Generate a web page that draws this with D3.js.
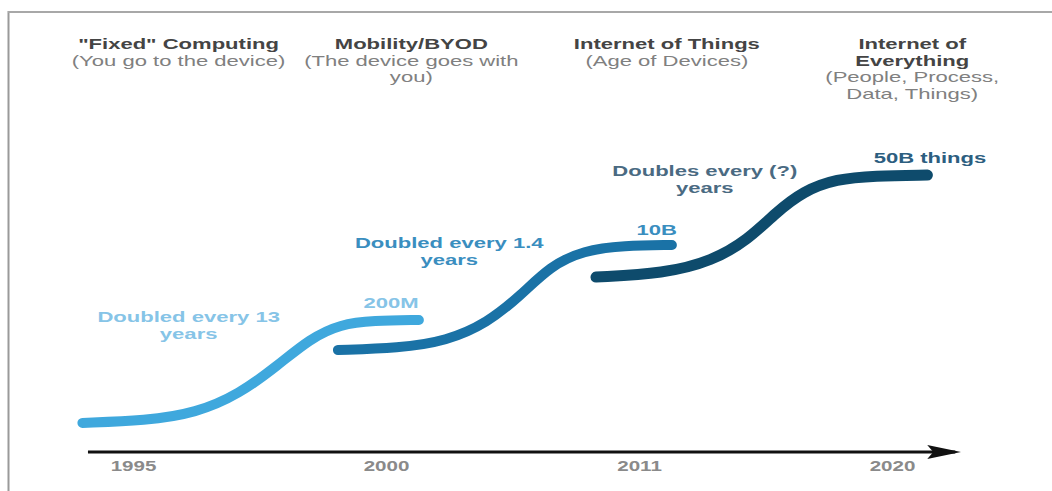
<!DOCTYPE html>
<html>
<head>
<meta charset="utf-8">
<script src="https://cdn.jsdelivr.net/npm/d3@7"></script>
<style>
  html, body { margin: 0; padding: 0; background: #fff; }
  svg { display: block; font-family: "Liberation Sans", Arial, sans-serif; }
</style>
</head>
<body>
<div id="chart"></div>
<script>
// era index on the time arrow -> year label
const years = ["1995", "2000", "2011", "2020"];

const eraTitles = [
  ["\"Fixed\" Computing"],
  ["Mobility/BYOD"],
  ["Internet of Things"],
  ["Internet of", "Everything"],
];
const eraSubtitles = [
  ["(You go to the device)"],
  ["(The device goes with", "you)"],
  ["(Age of Devices)"],
  ["(People, Process,", "Data, Things)"],
];

// growth curves: [era position, relative level 0-100]
const fixedCurve = [
  [-0.2, 9.7], [0.05, 10.4], [0.25, 13], [0.42, 19.3],
  [0.57, 28.7], [0.7, 37.8], [0.82, 42.6], [0.95, 43.8], [1.13, 44],
];
const mobileCurve = [
  [0.81, 34], [1.05, 34.6], [1.24, 37], [1.4, 43],
  [1.53, 52], [1.65, 62], [1.78, 67.2], [1.94, 68.8], [2.13, 69],
];
const iotCurve = [
  [1.83, 58.3], [2.1, 59.5], [2.29, 63.7], [2.43, 70.7], [2.54, 79.7],
  [2.65, 87], [2.78, 91], [2.93, 92.1], [3.14, 92.3],
];

// annotations: text lines, anchor [era position, level]
const notes = [
  { lines: ["Doubled every 13", "years"], at: [0.22, 45], series: 0 },
  { lines: ["200M"], at: [1.02, 49.7], series: 0 },
  { lines: ["Doubled every 1.4", "years"], at: [1.25, 69.7], series: 1 },
  { lines: ["10B"], at: [2.07, 74], series: 1 },
  { lines: ["Doubles every (?)", "years"], at: [2.26, 93.7], series: 3 },
  { lines: ["50B things"], at: [3.15, 98], series: 2 },
];

const width = 1052;
const height = 491;
const SX = 1.47; // the source lettering is horizontally stretched
const lineColors = ["#3fa8dd", "#1a72a6", "#0e4b6c"];
const noteColors = ["#86c4e7", "#3a8ebf", "#2c5e80", "#4a6a82"];
const headerX = [0.18, 1.1, 2.11, 3.08];

const x = d3.scaleLinear().domain([0, 3]).range([133, 892]);
const y = d3.scaleLinear().domain([0, 100]).range([452, 152]);
const line = d3
  .line()
  .x((d) => x(d[0]))
  .y((d) => y(d[1]))
  .curve(d3.curveBasis);

const svg = d3
  .select("#chart")
  .append("svg")
  .attr("width", width)
  .attr("height", height)
  .attr("viewBox", [0, 0, width, height]);

// frame
svg.append("line")
  .attr("x1", 8.5).attr("x2", 8.5).attr("y1", 11).attr("y2", height)
  .attr("stroke", "#9a9a9a").attr("stroke-width", 2);
svg.append("line")
  .attr("x1", 8).attr("x2", width).attr("y1", 12).attr("y2", 12)
  .attr("stroke", "#a8a8a8").attr("stroke-width", 2);

function label(g, text, px, py, opts) {
  return g
    .append("text")
    .attr("transform", `translate(${px},${py}) scale(${SX},1)`)
    .attr("text-anchor", "middle")
    .attr("dy", "0.35em")
    .attr("font-size", opts.size || 15)
    .attr("font-weight", opts.weight || "normal")
    .attr("fill", opts.fill)
    .text(text);
}

// era headers
const gHead = svg.append("g").attr("class", "headers");
eraTitles.forEach((title, i) => {
  let py = 44;
  title.forEach((t) => {
    label(gHead, t, x(headerX[i]), py, { weight: "bold", fill: "#444" });
    py += 16.5;
  });
  eraSubtitles[i].forEach((t) => {
    label(gHead, t, x(headerX[i]), py, { fill: "#808080" });
    py += 16.5;
  });
});

// time arrow
svg.append("defs")
  .append("marker")
  .attr("id", "arrow")
  .attr("markerUnits", "userSpaceOnUse")
  .attr("viewBox", "0 -8 34 16")
  .attr("refX", 28)
  .attr("refY", 0)
  .attr("markerWidth", 34)
  .attr("markerHeight", 16)
  .attr("orient", "auto")
  .append("path")
  .attr("d", "M0,-7L34,0L0,7L6,0Z")
  .attr("fill", "#111");

const gX = svg.append("g").attr("transform", `translate(0,${y(0)})`);
gX.append("line")
  .attr("x1", x(-0.178))
  .attr("x2", x(3.25))
  .attr("stroke", "#111")
  .attr("stroke-width", 3)
  .attr("marker-end", "url(#arrow)");
gX.call(
  d3.axisBottom(x)
    .tickValues(d3.range(years.length))
    .tickFormat((i) => years[i])
    .tickSize(0)
    .tickPadding(9)
)
  .attr("font-size", null)
  .attr("font-family", null)
  .call((g) => g.select(".domain").remove())
  .call((g) =>
    g.selectAll(".tick text")
      .attr("transform", `scale(${SX},1)`)
      .attr("font-size", 14)
      .attr("font-weight", "bold")
      .attr("fill", "#8a8a8a")
  );

// growth curves
svg.append("g")
  .attr("class", "curves")
  .selectAll("path")
  .data([fixedCurve, mobileCurve, iotCurve])
  .join("path")
  .attr("d", line)
  .attr("fill", "none")
  .attr("stroke", (d, i) => lineColors[i])
  .attr("stroke-width", (d, i) => (i === 2 ? 11 : 10))
  .attr("stroke-linecap", "round");

// annotations
const gNotes = svg.append("g").attr("class", "notes");
notes.forEach((n) => {
  n.lines.forEach((t, j) => {
    label(gNotes, t, x(n.at[0]), y(n.at[1]) + j * 16.5, {
      weight: "bold",
      fill: noteColors[n.series],
    });
  });
});
</script>
</body>
</html>
